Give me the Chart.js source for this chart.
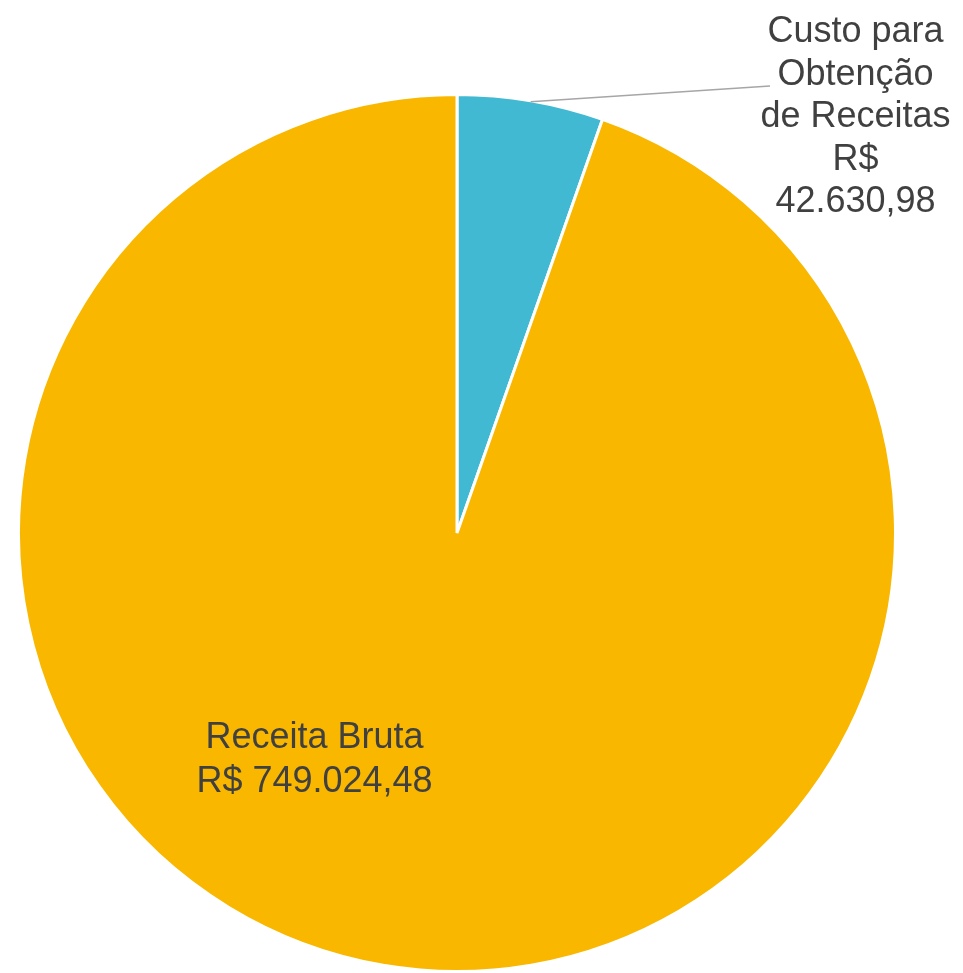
<!DOCTYPE html>
<html>
<head>
<meta charset="utf-8">
<script src="https://cdn.jsdelivr.net/npm/chart.js@4.4.0/dist/chart.umd.min.js"></script>
<style>
html,body{margin:0;padding:0;background:#fff;}
#wrap{width:963px;height:973px;position:relative;overflow:hidden;}
</style>
</head>
<body>
<div id="wrap"><canvas id="c" width="963" height="973"></canvas></div>
<script>
const categories = ["Custo para Obtenção de Receitas", "Receita Bruta"];
const values = [42630.98, 749024.48];
const valueLabels = ["R$ 42.630,98", "R$ 749.024,48"];
const labelLines = [
  ["Custo para", "Obtenção", "de Receitas", "R$", "42.630,98"],
  ["Receita Bruta", "R$ 749.024,48"]
];
const colors = ["#41B9D3", "#F9B700"];

const labelPlugin = {
  id: 'pieLabels',
  afterDatasetsDraw(chart) {
    const ctx = chart.ctx;
    const meta = chart.getDatasetMeta(0);
    ctx.save();
    ctx.font = '36px "Liberation Sans", Arial, sans-serif';
    ctx.fillStyle = '#404040';
    ctx.textAlign = 'center';
    ctx.textBaseline = 'alphabetic';
    // leader line for small slice
    const a0 = meta.data[0];
    const mid = (a0.startAngle + a0.endAngle) / 2;
    const sx = a0.x + Math.cos(mid) * (a0.outerRadius - 1);
    const sy = a0.y + Math.sin(mid) * (a0.outerRadius - 1);
    ctx.strokeStyle = '#A6A6A6';
    ctx.lineWidth = 1.5;
    ctx.beginPath();
    ctx.moveTo(sx, sy);
    ctx.lineTo(770, 86);
    ctx.stroke();
    // label for small slice
    labelLines[0].forEach((t, i) => ctx.fillText(t, 855.5, 42 + i * 42.5));
    // label for big slice
    labelLines[1].forEach((t, i) => ctx.fillText(t, 314.5, 748 + i * 44));
    ctx.restore();
  }
};

new Chart(document.getElementById('c'), {
  type: 'pie',
  data: {
    labels: categories,
    datasets: [{
      data: values,
      backgroundColor: colors,
      borderColor: '#ffffff',
      borderWidth: 3
    }]
  },
  options: {
    responsive: false,
    animation: false,
    layout: { padding: { top: 93, bottom: -4, left: 15, right: 64 } },
    plugins: {
      legend: { display: false },
      tooltip: { enabled: false }
    }
  },
  plugins: [labelPlugin]
});
</script>
</body>
</html>
